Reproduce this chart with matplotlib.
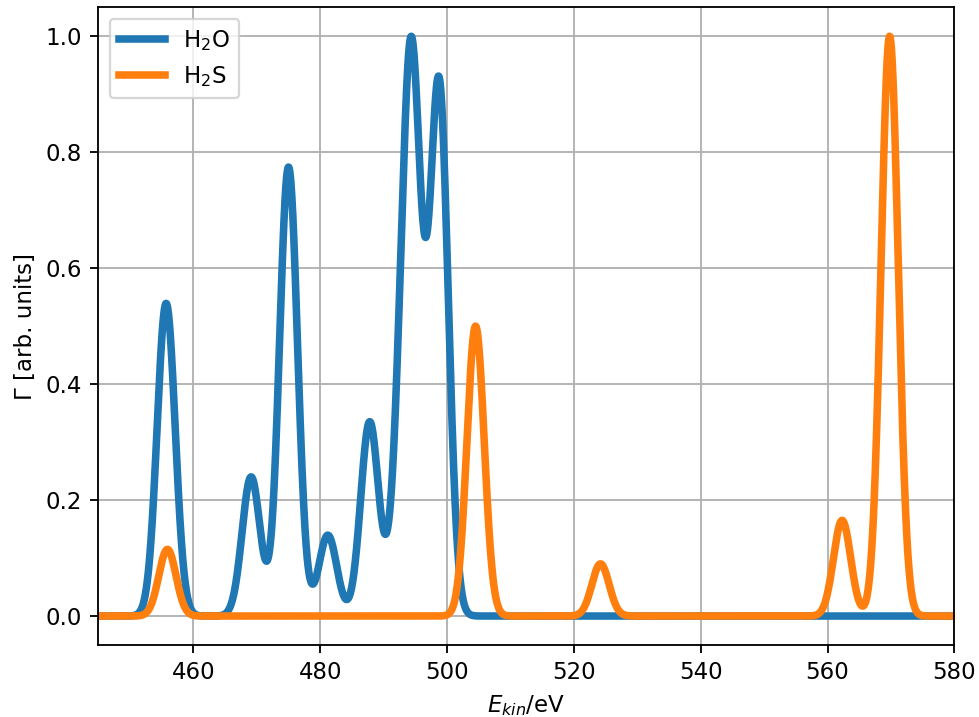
import numpy as np
import matplotlib
matplotlib.use("Agg")
import matplotlib.pyplot as plt

# Stick spectra (peak energy in eV, relative intensity)
h2o_energies = [455.7, 469.1, 475.0, 481.2, 487.8, 492.6, 494.45, 496.7, 498.8]
h2o_heights = [0.553, 0.246, 0.794, 0.143, 0.343, 0.22, 0.89, 0.11, 0.906]
h2s_energies = [455.9, 504.5, 524.2, 562.3, 569.8]
h2s_heights = [0.115, 0.50, 0.09, 0.165, 1.0]
h2o_sigma = 1.42  # Gaussian broadening (eV)
h2s_sigma = 1.36

x_ticks = [460, 480, 500, 520, 540, 560, 580]
y_ticks = [0.0, 0.2, 0.4, 0.6, 0.8, 1.0]

E = np.linspace(445, 580, 3000)


def broaden(energies, heights, sigma):
    s = np.zeros_like(E)
    for e0, h in zip(energies, heights):
        s += h * np.exp(-(E - e0) ** 2 / (2 * sigma ** 2))
    return s / s.max()


dpi = 165
fig = plt.figure(figsize=(979 / dpi, 717 / dpi), dpi=dpi)
ax = fig.add_axes([0.1004, 0.1004, 0.9748 - 0.1004, 0.9898 - 0.1004])

ax.plot(E, broaden(h2o_energies, h2o_heights, h2o_sigma), lw=3.3,
        color="#1f77b4", label="H$_2$O")
ax.plot(E, broaden(h2s_energies, h2s_heights, h2s_sigma), lw=3.3,
        color="#ff7f0e", label="H$_2$S")

ax.set_xlim(445, 580)
ax.set_ylim(-0.05, 1.05)
ax.set_xticks(x_ticks)
ax.set_yticks(y_ticks)
ax.grid(True, color="#b0b0b0", lw=0.8)
ax.set_axisbelow(True)
ax.set_xlabel("$E_{kin}$/eV")
ax.set_ylabel("Γ [arb. units]")
ax.legend(loc="upper left")

fig.savefig("out.png", dpi=dpi)
